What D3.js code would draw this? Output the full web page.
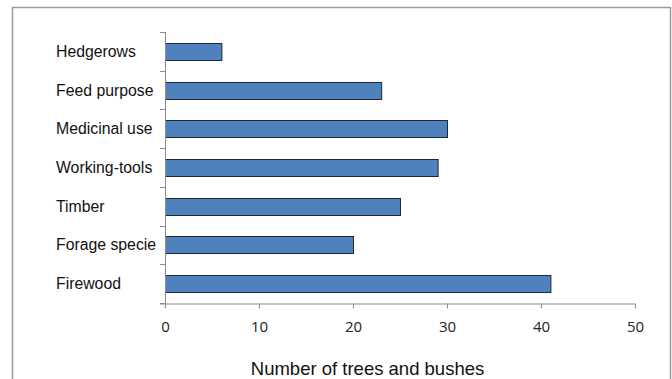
<!DOCTYPE html>
<html><head><meta charset="utf-8">
<script src="https://cdn.jsdelivr.net/npm/d3@7"></script>
<style>body{margin:0;background:#fff;}svg{display:block;}</style>
</head><body>
<svg id="c" width="672" height="379"></svg>
<script>
const categories = ["Hedgerows","Feed purpose","Medicinal use","Working-tools","Timber","Forage specie","Firewood"];
const values = [6,23,30,29,25,20,41];
const xTicks = [0,10,20,30,40,50];
const xTitle = "Number of trees and bushes";

const svg = d3.select("#c");
// outer frame
svg.append("rect").attr("x",12.5).attr("y",7.5).attr("width",658).attr("height",380)
  .attr("fill","#fff").attr("stroke","#9a9a9a").attr("stroke-width",1.5);

const x0=165, x1=635, y0=32, y1=303;
const x = d3.scaleLinear().domain([0,50]).range([x0,x1]);
const y = d3.scaleBand().domain(categories).range([y0,y1]).paddingInner(0.56).paddingOuter(0.28);

// bars
svg.selectAll("rect.bar").data(categories).enter().append("rect")
  .attr("class","bar")
  .attr("x",x(0)+0.5)
  .attr("y",d=>Math.round(y(d))+0.5)
  .attr("width",(d,i)=>x(values[i])-x(0))
  .attr("height",Math.round(y.bandwidth()))
  .attr("fill","#4F81BD").attr("stroke","#1f2a36").attr("stroke-width",1);

// y axis line and ticks
const yg = svg.append("g");
yg.append("line").attr("x1",x0+0.5).attr("x2",x0+0.5).attr("y1",y0).attr("y2",y1)
  .attr("stroke","#8c8c8c");
const bounds = categories.map(c=>y(c)-y.step()*y.paddingInner()/2).concat([y1]);
yg.selectAll("line.t").data(bounds).enter().append("line")
  .attr("x1",x0-5).attr("x2",x0).attr("y1",d=>Math.round(d)+0.5).attr("y2",d=>Math.round(d)+0.5)
  .attr("stroke","#8c8c8c");
yg.selectAll("text").data(categories).enter().append("text")
  .attr("x",56).attr("y",d=>y(d)+y.bandwidth()/2).attr("dy","0.35em")
  .attr("font-family","Liberation Sans, Arial, sans-serif").attr("font-size",15.8)
  .attr("fill","#111").text(d=>d);

// x axis
const xg = svg.append("g").attr("transform",`translate(0,${y1+0.5})`);
const ax = d3.axisBottom(x).tickValues(xTicks).tickSize(5).tickPadding(13);
xg.call(ax);
xg.select(".domain").attr("stroke","#8c8c8c").attr("d",`M${x0-5},0.5H${x1}`);
xg.selectAll(".tick line").attr("stroke","#8c8c8c");
xg.selectAll(".tick text").attr("font-family","Open Sans, DejaVu Sans, sans-serif")
  .attr("font-size",15).attr("fill","#222");

svg.append("text").attr("x",367.5).attr("y",375).attr("text-anchor","middle")
  .attr("font-family","Liberation Sans, Arial, sans-serif").attr("font-size",18.5)
  .attr("fill","#111").text(xTitle);
</script>
</body></html>
